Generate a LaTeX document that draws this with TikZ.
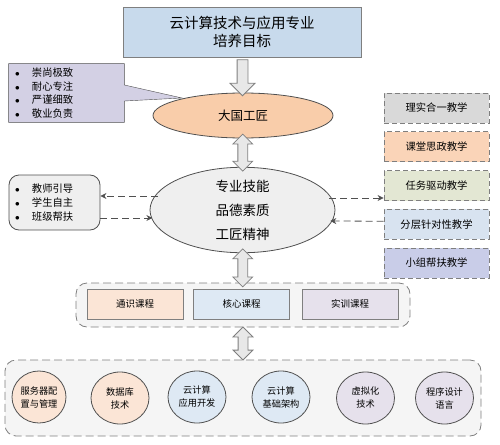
\documentclass[tikz,border=0pt]{standalone}
\usepackage{fontspec}
\setmainfont{Noto Sans CJK SC}
\usetikzlibrary{shapes.geometric,shapes.arrows,calc,arrows.meta,backgrounds}
\definecolor{goalblue}{HTML}{C8DAEC}
\definecolor{calloutlilac}{HTML}{D3D0E4}
\definecolor{craftpeach}{HTML}{F9CDAA}
\definecolor{lightgray}{HTML}{EFEFEF}
\definecolor{groupgray}{HTML}{F5F5F5}
\definecolor{linegray}{HTML}{7F7F7F}
\definecolor{darkline}{HTML}{505050}
\definecolor{methgray}{HTML}{D9D9D9}
\definecolor{methpeach}{HTML}{FAD4B8}
\definecolor{methgreen}{HTML}{E3E7D3}
\definecolor{methblue}{HTML}{D8E3F0}
\definecolor{methviolet}{HTML}{C9CDE8}
\definecolor{coursepeach}{HTML}{FBE5D6}
\definecolor{courseblue}{HTML}{DEE9F4}
\definecolor{courselilac}{HTML}{E6E1EC}
\newcommand{\dotmark}{\makebox[17pt][l]{\small$\bullet$}}
\begin{document}
\begin{tikzpicture}[x=1pt,y=-1pt,line width=0.8pt,
	goalbox/.style={draw=linegray,fill=goalblue,minimum width=238pt,minimum height=50pt,align=center,font=\fontsize{14.5}{17.5}\selectfont},
	listbox/.style={text width=#1,inner xsep=6pt,align=left,font=\fontsize{10.3}{13.6}\selectfont},
	oval/.style={ellipse,draw=darkline,inner sep=0pt,align=center},
	methbox/.style={draw=linegray,dash pattern=on 5pt off 3pt,fill=#1,minimum width=105pt,minimum height=30pt,font=\fontsize{10.3}{12}\selectfont},
	groupbox/.style={draw=linegray,dash pattern=on 8pt off 4pt,fill=groupgray,rounded corners=11pt},
	coursebox/.style={draw=linegray,fill=#1,minimum width=96pt,minimum height=30pt,font=\fontsize{9.5}{11}\selectfont},
	module/.style={ellipse,draw=darkline,fill=#1,minimum width=58pt,minimum height=52pt,inner sep=0pt,align=center,font=\fontsize{9.2}{13}\selectfont},
	downarrow/.style={single arrow,draw=linegray,fill=gray!18,inner sep=5pt,single arrow head extend=7pt,shape border rotate=270},
	bothways/.style={double arrow,draw=linegray,fill=gray!18,inner sep=4.5pt,double arrow head extend=5pt,shape border rotate=90},
	dasharrow/.style={draw=darkline,dash pattern=on 7pt off 4pt,-{Stealth[length=6pt,width=6pt]}}]
	\useasboundingbox (0,0) rectangle (500,444);

	% goal and craftsman
	\node[goalbox] (goal) at (242,32) {云计算技术与应用专业\\培养目标};
	\node[oval,fill=craftpeach,minimum width=180pt,minimum height=45pt,font=\fontsize{12.5}{14}\selectfont] (craft) at (243,115.5) {大国工匠};
	\node[downarrow,minimum height=36pt] at ($(goal.south)!0.5!(craft.north)$) {};

	% callout with the virtues
	\coordinate (tip) at (182,98);
	\node[listbox=103pt,minimum height=58pt] (virtue) at (66.5,93) {\dotmark 崇尚极致\\\dotmark 耐心专注\\\dotmark 严谨细致\\\dotmark 敬业负责};
	\begin{scope}[on background layer]
		\draw[draw=darkline,fill=calloutlilac] (virtue.north west) -- (virtue.north east) -- ($(virtue.east)+(0,-8)$) -- (tip) -- ($(virtue.east)+(0,8)$) -- (virtue.south east) -- (virtue.south west) -- cycle;
	\end{scope}

	% core qualities
	\node[oval,fill=lightgray,minimum width=185pt,minimum height=70pt,font=\fontsize{13.5}{24}\selectfont] (quality) at (242.5,210) {专业技能\\品德素质\\工匠精神};
	\node[bothways,minimum height=37pt] at ($(craft.south)!0.5!(quality.north)$) {};

	\node[listbox=79pt,draw=darkline,fill=lightgray,rounded corners=10pt,minimum height=55pt,font=\fontsize{10.3}{14}\selectfont] (guide) at (54.5,202.5) {\dotmark 教师引导\\\dotmark 学生自主\\\dotmark 班级帮扶};
	\draw[dasharrow] ($(quality.center)+(-84.8,-14)$) -- ($(guide.east)+(0,-6.5)$);
	\draw[dasharrow] ($(guide.east)+(0,15.5)$) -- ($(quality.center)+(-90.1,8)$);

	% teaching methods
	\node[methbox=methgray] (unity) at (436.5,108) {理实合一教学};
	\node[methbox=methpeach] (ideology) at (436.5,146.75) {课堂思政教学};
	\node[methbox=methgreen] (task) at (436.5,185.5) {任务驱动教学};
	\node[methbox=methblue] (layer) at (436.5,224.25) {分层针对性教学};
	\node[methbox=methviolet] (team) at (436.5,263) {小组帮扶教学};
	\draw[dasharrow] ($(quality.center)+(86.9,-12)$) -- ($(task.west)+(0,12.5)$);
	\draw[dasharrow] ($(layer.west)+(0,-3)$) -- ($(quality.center)+(87.8,11)$);

	% courses
	\node[groupbox,minimum width=334pt,minimum height=44pt] (courses) at (243,305) {};
	\node[coursebox=coursepeach] (general) at (135,304) {通识课程};
	\node[coursebox=courseblue] (core) at (241.5,304) {核心课程};
	\node[coursebox=courselilac] (practice) at (350,304) {实训课程};
	\node[bothways,minimum height=38pt] at ($(quality.south)!0.5!(courses.north)$) {};

	% course modules
	\node[groupbox,minimum width=476pt,minimum height=76pt] (modules) at (243,398) {};
	\node[bothways,minimum height=33pt] at ($(courses.south)!0.5!(modules.north)$) {};
	\node[module=coursepeach,minimum width=54pt] (server) at (39,397) {服务器配\\置与管理};
	\node[module=coursepeach] (database) at (120,398) {数据库\\技术};
	\node[module=courseblue] (appdev) at (197,397) {云计算\\应用开发};
	\node[module=courseblue] (infra) at (281,397) {云计算\\基础架构};
	\node[module=courselilac] (virtual) at (365.5,398) {虚拟化\\技术};
	\node[module=courselilac] (coding) at (444.5,398) {程序设计\\语言};
\end{tikzpicture}
\end{document}
